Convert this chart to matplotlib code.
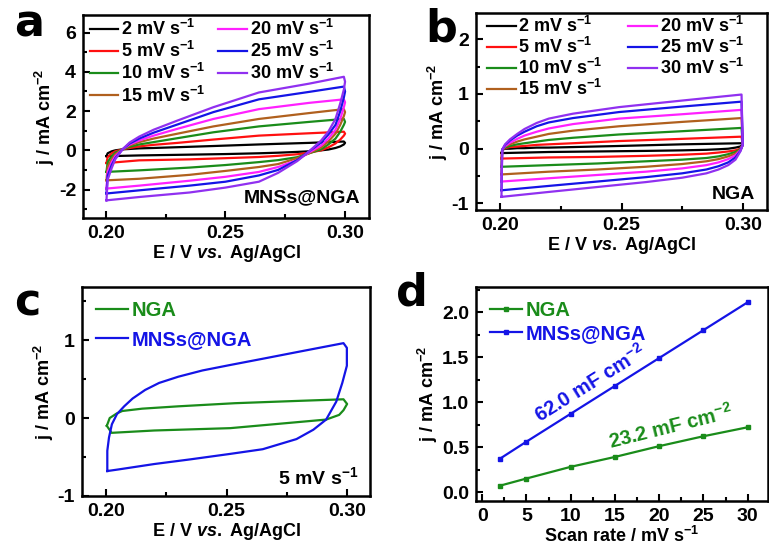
import matplotlib
matplotlib.use("Agg")
import matplotlib.pyplot as plt
from matplotlib.ticker import MultipleLocator, FormatStrFormatter

plt.rcParams['font.family'] = ['Liberation Sans', 'DejaVu Sans']
plt.rcParams['font.weight'] = 'bold'
plt.rcParams['mathtext.fontset'] = 'custom'
plt.rcParams['mathtext.rm'] = 'Liberation Sans:bold'
plt.rcParams['mathtext.bf'] = 'Liberation Sans:bold'
plt.rcParams['mathtext.it'] = 'Liberation Sans:bold:italic'
plt.rcParams['mathtext.default'] = 'rm'
plt.rcParams['axes.unicode_minus'] = False

# ---------------- data ----------------
rates = [2, 5, 10, 15, 20, 25, 30]
rate_labels = ['2 mV s$^{-1}$', '5 mV s$^{-1}$', '10 mV s$^{-1}$', '15 mV s$^{-1}$',
               '20 mV s$^{-1}$', '25 mV s$^{-1}$', '30 mV s$^{-1}$']
colors = ['#000000', '#ff1010', '#1a8c1a', '#b0601e', '#ff20ff', '#1414e6', '#9030f0']

# panel a: MNSs@NGA CV loops (anodic branch left->right, cathodic right->left)
a_E_up = [0.2003, 0.2008, 0.2025, 0.204, 0.207, 0.21, 0.214, 0.22, 0.23, 0.245, 0.264, 0.285, 0.2995]
a_j_up = {
    2:  [-0.30, -0.15, -0.05, 0.00, 0.05, 0.07, 0.10, 0.12, 0.16, 0.22, 0.30, 0.38, 0.45],
    5:  [-0.65, -0.35, -0.15, -0.05, 0.05, 0.12, 0.20, 0.28, 0.38, 0.55, 0.75, 0.87, 0.95],
    10: [-1.10, -0.60, -0.30, -0.12, 0.05, 0.18, 0.30, 0.42, 0.62, 0.92, 1.22, 1.45, 1.60],
    15: [-1.53, -0.85, -0.45, -0.20, 0.05, 0.25, 0.42, 0.60, 0.85, 1.22, 1.60, 1.90, 2.10],
    20: [-1.95, -1.10, -0.60, -0.30, 0.05, 0.30, 0.50, 0.75, 1.10, 1.60, 2.10, 2.42, 2.60],
    25: [-2.20, -1.30, -0.75, -0.40, 0.05, 0.35, 0.60, 0.90, 1.32, 1.95, 2.60, 2.98, 3.25],
    30: [-2.55, -1.50, -0.90, -0.45, 0.05, 0.40, 0.70, 1.05, 1.52, 2.20, 2.95, 3.40, 3.75],
}
a_E_low = [0.300, 0.2995, 0.298, 0.296, 0.293, 0.29, 0.285, 0.28, 0.272, 0.264, 0.25, 0.235, 0.214, 0.2003]
a_j_low = {
    2:  [0.38, 0.30, 0.20, 0.12, 0.04, 0.00, -0.05, -0.08, -0.12, -0.15, -0.19, -0.22, -0.26, -0.30],
    5:  [0.85, 0.75, 0.55, 0.35, 0.15, 0.00, -0.12, -0.20, -0.28, -0.34, -0.40, -0.46, -0.51, -0.65],
    10: [1.45, 1.30, 0.95, 0.60, 0.30, 0.05, -0.15, -0.35, -0.50, -0.60, -0.75, -0.88, -1.02, -1.10],
    15: [1.95, 1.75, 1.30, 0.85, 0.45, 0.15, -0.15, -0.40, -0.70, -0.85, -1.05, -1.25, -1.45, -1.53],
    20: [2.45, 2.20, 1.60, 1.05, 0.60, 0.25, -0.10, -0.50, -0.85, -1.10, -1.35, -1.55, -1.80, -1.95],
    25: [3.00, 2.70, 2.00, 1.30, 0.80, 0.40, -0.05, -0.50, -1.00, -1.28, -1.60, -1.80, -2.04, -2.20],
    30: [3.50, 3.10, 2.40, 1.60, 0.95, 0.50, -0.05, -0.55, -1.15, -1.60, -1.90, -2.15, -2.38, -2.55],
}

# panel b: NGA CV loops
b_E_up = [0.2005, 0.2008, 0.202, 0.204, 0.207, 0.21, 0.215, 0.22, 0.23, 0.249, 0.275, 0.2995]
b_j_up = {
    2:  [-0.08, -0.02, 0.00, 0.00, 0.01, 0.01, 0.02, 0.02, 0.03, 0.05, 0.08, 0.10],
    5:  [-0.18, -0.02, 0.01, 0.03, 0.04, 0.05, 0.07, 0.08, 0.10, 0.14, 0.18, 0.22],
    10: [-0.33, -0.02, 0.02, 0.05, 0.08, 0.10, 0.13, 0.16, 0.20, 0.26, 0.32, 0.38],
    15: [-0.47, -0.02, 0.04, 0.08, 0.13, 0.17, 0.22, 0.27, 0.33, 0.41, 0.49, 0.56],
    20: [-0.60, -0.02, 0.05, 0.11, 0.18, 0.24, 0.31, 0.37, 0.45, 0.55, 0.63, 0.71],
    25: [-0.76, -0.02, 0.07, 0.15, 0.24, 0.31, 0.41, 0.48, 0.56, 0.67, 0.77, 0.86],
    30: [-0.88, -0.02, 0.08, 0.17, 0.27, 0.36, 0.47, 0.55, 0.64, 0.76, 0.88, 0.99],
}
b_E_low = [0.300, 0.299, 0.297, 0.294, 0.29, 0.285, 0.275, 0.26, 0.24, 0.22, 0.2005]
b_j_low = {
    2:  [0.07, 0.04, 0.02, 0.00, -0.01, -0.02, -0.03, -0.04, -0.05, -0.06, -0.08],
    5:  [0.07, 0.00, -0.03, -0.05, -0.07, -0.09, -0.11, -0.13, -0.15, -0.16, -0.18],
    10: [0.07, -0.01, -0.06, -0.10, -0.14, -0.17, -0.20, -0.23, -0.27, -0.30, -0.33],
    15: [0.07, -0.02, -0.09, -0.14, -0.19, -0.23, -0.28, -0.33, -0.38, -0.42, -0.47],
    20: [0.07, -0.03, -0.12, -0.19, -0.25, -0.30, -0.36, -0.42, -0.48, -0.54, -0.60],
    25: [0.07, -0.04, -0.16, -0.25, -0.32, -0.38, -0.45, -0.52, -0.60, -0.68, -0.76],
    30: [0.07, -0.05, -0.20, -0.30, -0.38, -0.45, -0.53, -0.61, -0.70, -0.79, -0.88],
}

# panel c: 5 mV/s comparison
c_mns_E = [0.2005, 0.2005, 0.2012, 0.2024, 0.2045, 0.2075, 0.211, 0.2162, 0.222, 0.23, 0.24,
           0.2515, 0.265, 0.28, 0.2985, 0.2999, 0.2999, 0.298, 0.2955, 0.2913, 0.286, 0.279,
           0.265, 0.2515, 0.235, 0.22, 0.205, 0.2005]
c_mns_j = [-0.68, -0.42, -0.25, -0.08, 0.05, 0.15, 0.25, 0.36, 0.45, 0.53, 0.61,
           0.68, 0.76, 0.85, 0.96, 0.90, 0.67, 0.45, 0.21, -0.02, -0.15, -0.27,
           -0.40, -0.46, -0.53, -0.59, -0.66, -0.68]
c_nga_E = [0.2003, 0.2015, 0.2045, 0.2067, 0.215, 0.23, 0.2535, 0.28, 0.2985, 0.300, 0.2985,
           0.2967, 0.2913, 0.2515, 0.22, 0.2023, 0.2003]
c_nga_j = [-0.10, 0.00, 0.06, 0.09, 0.12, 0.15, 0.19, 0.22, 0.24, 0.18, 0.10,
           0.04, -0.02, -0.13, -0.16, -0.19, -0.10]

# panel d: current vs scan rate
d_rate = [2, 5, 10, 15, 20, 25, 30]
d_nga = [0.07, 0.15, 0.28, 0.39, 0.51, 0.62, 0.72]
d_mns = [0.37, 0.56, 0.87, 1.18, 1.49, 1.80, 2.11]

GREEN = '#1a8c1a'
BLUE = '#1414e6'

W, H = 769, 547
fig = plt.figure(figsize=(W / 100, H / 100), dpi=100)


def rect(l, r, t, b):
    return [l / W, 1 - b / H, (r - l) / W, (b - t) / H]


def style(ax):
    for s in ax.spines.values():
        s.set_linewidth(1.8)
    ax.tick_params(which='both', direction='in', top=False, right=False,
                   labelsize=14, width=1.5)
    ax.tick_params(which='major', length=5, pad=5)
    ax.tick_params(which='minor', length=3)
    for lab in ax.get_xticklabels() + ax.get_yticklabels():
        lab.set_fontweight('bold')


xlabel_cv = 'E / V $\\mathit{vs.}$ Ag/AgCl'
ylabel = 'j / mA cm$^{-2}$'

# ---- a ----
ax = fig.add_axes(rect(83, 369, 15, 218))
for r, c, lab in zip(rates, colors, rate_labels):
    E = a_E_up + a_E_low
    j = a_j_up[r] + a_j_low[r]
    ax.plot(E, j, color=c, lw=1.6, label=lab)
ax.set_xlim(0.1905, 0.310)
ax.set_ylim(-3.45, 6.9)
ax.xaxis.set_major_locator(MultipleLocator(0.05))
ax.xaxis.set_minor_locator(MultipleLocator(0.025))
ax.xaxis.set_major_formatter(FormatStrFormatter('%.2f'))
ax.yaxis.set_major_locator(MultipleLocator(2))
ax.yaxis.set_minor_locator(MultipleLocator(1))
ax.set_xlabel(xlabel_cv, fontsize=13, fontweight='bold', labelpad=1)
ax.set_ylabel(ylabel, fontsize=13, fontweight='bold', labelpad=1)
ax.legend(ncol=2, loc='upper left', bbox_to_anchor=(-0.015, 1.035), frameon=False,
          fontsize=13, handlelength=1.6, handletextpad=0.15, labelspacing=0.12,
          columnspacing=0.7, borderaxespad=0.2)
ax.text(0.97, 0.10, 'MNSs@NGA', transform=ax.transAxes, ha='right', va='center',
        fontsize=14, fontweight='bold')
style(ax)

# ---- b ----
ax = fig.add_axes(rect(476, 767, 13, 210))
for r, c, lab in zip(rates, colors, rate_labels):
    E = b_E_up + b_E_low
    j = b_j_up[r] + b_j_low[r]
    ax.plot(E, j, color=c, lw=1.6, label=lab)
ax.set_xlim(0.190, 0.310)
ax.set_ylim(-1.12, 2.48)
ax.xaxis.set_major_locator(MultipleLocator(0.05))
ax.xaxis.set_minor_locator(MultipleLocator(0.025))
ax.xaxis.set_major_formatter(FormatStrFormatter('%.2f'))
ax.yaxis.set_major_locator(MultipleLocator(1))
ax.yaxis.set_minor_locator(MultipleLocator(0.5))
ax.yaxis.set_major_formatter(FormatStrFormatter('%d'))
ax.set_xlabel(xlabel_cv, fontsize=13, fontweight='bold', labelpad=1)
ax.set_ylabel(ylabel, fontsize=13, fontweight='bold', labelpad=1)
ax.legend(ncol=2, loc='upper left', bbox_to_anchor=(0.0, 1.04), frameon=False,
          fontsize=13, handlelength=1.6, handletextpad=0.15, labelspacing=0.05,
          columnspacing=1.4, borderaxespad=0.2)
ax.text(0.96, 0.08, 'NGA', transform=ax.transAxes, ha='right', va='center',
        fontsize=14, fontweight='bold')
style(ax)

# ---- c ----
ax = fig.add_axes(rect(82, 370, 287, 496))
ax.plot(c_nga_E, c_nga_j, color=GREEN, lw=1.6, label='NGA')
ax.plot(c_mns_E, c_mns_j, color=BLUE, lw=1.6, label='MNSs@NGA')
ax.set_xlim(0.190, 0.3095)
ax.set_ylim(-1.0, 1.68)
ax.xaxis.set_major_locator(MultipleLocator(0.05))
ax.xaxis.set_minor_locator(MultipleLocator(0.025))
ax.xaxis.set_major_formatter(FormatStrFormatter('%.2f'))
ax.yaxis.set_major_locator(MultipleLocator(1))
ax.yaxis.set_minor_locator(MultipleLocator(0.5))
ax.yaxis.set_major_formatter(FormatStrFormatter('%d'))
ax.set_xlabel(xlabel_cv, fontsize=13, fontweight='bold', labelpad=1)
ax.set_ylabel(ylabel, fontsize=13, fontweight='bold', labelpad=1)
leg = ax.legend(loc='upper left', bbox_to_anchor=(0.0, 1.0), frameon=False,
                fontsize=14.5, handlelength=1.6, handletextpad=0.15, labelspacing=0.5,
                borderaxespad=0.3)
for t, c in zip(leg.get_texts(), [GREEN, BLUE]):
    t.set_color(c)
ax.text(0.96, 0.09, '5 mV s$^{-1}$', transform=ax.transAxes, ha='right', va='center',
        fontsize=14, fontweight='bold')
style(ax)

# ---- d ----
ax = fig.add_axes(rect(476, 768, 287, 501))
ax.plot(d_rate, d_nga, color=GREEN, lw=1.6, marker='s', ms=3, label='NGA')
ax.plot(d_rate, d_mns, color=BLUE, lw=1.6, marker='s', ms=3, label='MNSs@NGA')
ax.set_xlim(-0.7, 32.3)
ax.set_ylim(-0.1, 2.28)
ax.xaxis.set_major_locator(MultipleLocator(5))
ax.xaxis.set_minor_locator(MultipleLocator(2.5))
ax.yaxis.set_major_locator(MultipleLocator(0.5))
ax.yaxis.set_minor_locator(MultipleLocator(0.25))
ax.yaxis.set_major_formatter(FormatStrFormatter('%.1f'))
ax.set_xlabel('Scan rate / mV s$^{-1}$', fontsize=13, fontweight='bold', labelpad=1)
ax.set_ylabel(ylabel, fontsize=13, fontweight='bold', labelpad=1)
leg = ax.legend(loc='upper left', bbox_to_anchor=(0.0, 1.0), frameon=False,
                fontsize=14.5, handlelength=1.6, handletextpad=0.15, labelspacing=0.2,
                borderaxespad=0.3)
for t, c in zip(leg.get_texts(), [GREEN, BLUE]):
    t.set_color(c)
ax.text(12.2, 1.21, '62.0 mF cm$^{-2}$', color=BLUE, rotation=32, ha='center',
        va='center', fontsize=14.5, fontweight='bold', rotation_mode='anchor')
ax.text(21.3, 0.73, '23.2 mF cm$^{-2}$', color=GREEN, rotation=14, ha='center',
        va='center', fontsize=14.5, fontweight='bold', rotation_mode='anchor')
style(ax)

# panel letters
for s, (x, y) in zip('abcd', [(29, 24), (441, 29), (27, 303), (412, 293)]):
    fig.text(x / W, 1 - y / H, s, fontsize=32, fontweight='bold', ha='center',
             va='center', family=['DejaVu Sans'])

fig.savefig('out.png', dpi=100)
